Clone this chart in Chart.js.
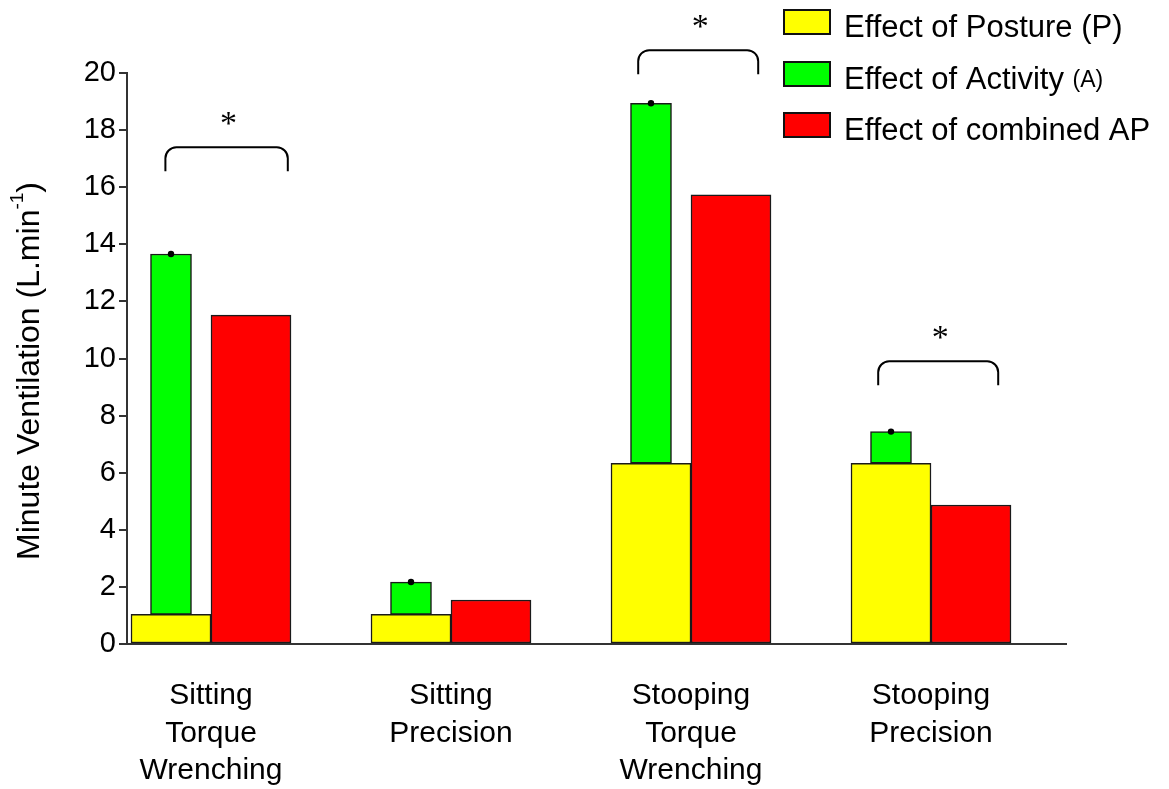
<!DOCTYPE html>
<html>
<head>
<meta charset="utf-8">
<title>Minute Ventilation by Task</title>
<script src="https://cdn.jsdelivr.net/npm/chart.js@4.4.1/dist/chart.umd.min.js"></script>
<style>
  html, body { margin: 0; padding: 0; background: #ffffff; }
  #wrap { width: 1169px; height: 789px; }
</style>
</head>
<body>
<div id="wrap"><canvas id="chart" width="1169" height="789"></canvas></div>
<script>
// Task groups (x positions 0..3) and their multi-line labels
const categories = [
  ['Sitting', 'Torque', 'Wrenching'],
  ['Sitting', 'Precision'],
  ['Stooping', 'Torque', 'Wrenching'],
  ['Stooping', 'Precision']
];

// Minute ventilation (L.min-1)
const postureEffect  = [1.04, 1.04, 6.33, 6.33];    // yellow, base of stack
const activityEffect = [12.62, 1.13, 12.61, 1.11];  // green, stacked on posture
const combinedEffect = [11.52, 1.54, 15.73, 4.87];  // red, separate bar

const seriesLabels = ['Effect of Posture (P)', 'Effect of Activity (A)', 'Effect of combined AP'];
const yTicks = [0, 2, 4, 6, 8, 10, 12, 14, 16, 18, 20];

// Significance brackets: x span (group units) and height (L.min-1)
const bracketFrom  = [-0.19, 1.78, 2.78];
const bracketTo    = [0.32, 2.28, 3.28];
const bracketLevel = [17.4, 20.8, 9.9];

const FONT = '"Liberation Sans", Arial, Helvetica, sans-serif';

const toPoints = arr => arr.map((v, i) => ({ x: i, y: v }));

const annotations = {
  id: 'annotations',
  afterDatasetsDraw(chart) {
    const ctx = chart.ctx;
    const xs = chart.scales.x, ys = chart.scales.y;

    // small marker dots on top of the activity bars
    const greenMeta = chart.getDatasetMeta(1);
    ctx.save();
    ctx.fillStyle = '#000';
    greenMeta.data.forEach(bar => {
      ctx.beginPath();
      ctx.arc(bar.x, bar.y, 3.2, 0, Math.PI * 2);
      ctx.fill();
    });
    ctx.restore();

    // brackets with asterisks
    ctx.save();
    ctx.strokeStyle = '#000';
    ctx.lineWidth = 2;
    ctx.fillStyle = '#000';
    ctx.font = '34px "Liberation Serif", "Times New Roman", serif';
    ctx.textAlign = 'center';
    ctx.textBaseline = 'middle';
    for (let i = 0; i < bracketLevel.length; i++) {
      const x1 = xs.getPixelForValue(bracketFrom[i]);
      const x2 = xs.getPixelForValue(bracketTo[i]);
      const top = ys.getPixelForValue(bracketLevel[i]);
      const leg = 24, r = 11;
      ctx.beginPath();
      ctx.moveTo(x1, top + leg);
      ctx.arcTo(x1, top, x1 + r, top, r);
      ctx.lineTo(x2 - r, top);
      ctx.arcTo(x2, top, x2, top + r, r);
      ctx.lineTo(x2, top + leg);
      ctx.stroke();
      ctx.fillText('*', (x1 + x2) / 2 + 2, top - 22);
    }
    ctx.restore();
  },
  afterDraw(chart) {
    const ctx = chart.ctx;
    // legend in the top right corner
    ctx.save();
    const boxX = 784, boxW = 46, boxH = 24;
    const rows = [10, 62, 113];
    chart.data.datasets.slice(0, 3).forEach((ds, i) => {
      const y = rows[i];
      ctx.fillStyle = ds.backgroundColor;
      ctx.fillRect(boxX, y, boxW, boxH);
      ctx.strokeStyle = '#111';
      ctx.lineWidth = 2;
      ctx.strokeRect(boxX, y, boxW, boxH);
      ctx.fillStyle = '#000';
      ctx.textAlign = 'left';
      ctx.textBaseline = 'middle';
      const m = ds.label.match(/^(.*)(\(A\))$/);
      const ty = y + boxH / 2 + 6;
      ctx.font = '31px ' + FONT;
      if (m) {
        ctx.fillText(m[1], 844, ty);
        const w = ctx.measureText(m[1]).width;
        ctx.font = '23px ' + FONT;
        ctx.fillText(m[2], 844 + w, ty + 1);
      } else {
        ctx.fillText(ds.label, 844, ty);
      }
    });
    ctx.restore();

    // rotated y-axis title with superscript
    ctx.save();
    ctx.translate(30, 371);
    ctx.rotate(-Math.PI / 2);
    ctx.fillStyle = '#000';
    ctx.textBaseline = 'middle';
    ctx.textAlign = 'left';
    const main = 'Minute Ventilation (L.min';
    const sup = '-1';
    const close = ')';
    ctx.font = '32px ' + FONT;
    const wMain = ctx.measureText(main).width;
    const wClose = ctx.measureText(close).width;
    ctx.font = '19px ' + FONT;
    const wSup = ctx.measureText(sup).width;
    const total = wMain + wSup + wClose;
    let x = -total / 2;
    ctx.font = '32px ' + FONT;
    ctx.fillText(main, x, 0);
    x += wMain;
    ctx.font = '19px ' + FONT;
    ctx.fillText(sup, x, -12);
    x += wSup;
    ctx.font = '32px ' + FONT;
    ctx.fillText(close, x, 0);
    ctx.restore();
  }
};

const barBorder = { borderColor: '#1a1a1a', borderWidth: 1.5, borderSkipped: false };

new Chart(document.getElementById('chart'), {
  type: 'bar',
  data: {
    datasets: [
      { label: seriesLabels[0], data: toPoints(postureEffect), backgroundColor: '#ffff00', stack: 'PA', barThickness: 80, ...barBorder },
      { label: seriesLabels[1], data: toPoints(activityEffect), backgroundColor: '#00ff00', stack: 'PA', barThickness: 80, maxBarThickness: 41, ...barBorder },
      { label: seriesLabels[2], data: toPoints(combinedEffect), backgroundColor: '#ff0000', stack: 'AP', barThickness: 80, ...barBorder }
    ]
  },
  options: {
    responsive: false,
    devicePixelRatio: 1,
    animation: false,
    layout: { padding: { left: 0, right: 103, top: 73, bottom: 0 } },
    plugins: { legend: { display: false }, tooltip: { enabled: false }, title: { display: false } },
    scales: {
      x: {
        type: 'linear',
        bounds: 'data',
        min: -0.35,
        max: 3.5625,
        offset: false,
        grid: { display: false, drawTicks: false },
        border: { display: true, color: '#333', width: 2 },
        afterBuildTicks: scale => { scale.ticks = categories.map((c, i) => ({ value: i })); },
        afterFit: scale => { scale.height = 145; },
        ticks: {
          autoSkip: false,
          maxRotation: 0,
          minRotation: 0,
          padding: 33,
          color: '#000',
          font: { family: FONT, size: 30, lineHeight: 1.25 },
          callback: (value, index) => categories[index]
        }
      },
      y: {
        stacked: true,
        min: 0,
        max: 20,
        afterBuildTicks: scale => { scale.ticks = yTicks.map(v => ({ value: v })); },
        afterFit: scale => { scale.width = 127; },
        grid: { display: true, drawOnChartArea: false, drawTicks: true, tickLength: 8, tickColor: '#333', lineWidth: 2 },
        border: { display: true, color: '#333', width: 2 },
        ticks: {
          padding: 3,
          color: '#000',
          font: { family: FONT, size: 29 }
        }
      }
    }
  },
  plugins: [annotations]
});
</script>
</body>
</html>
